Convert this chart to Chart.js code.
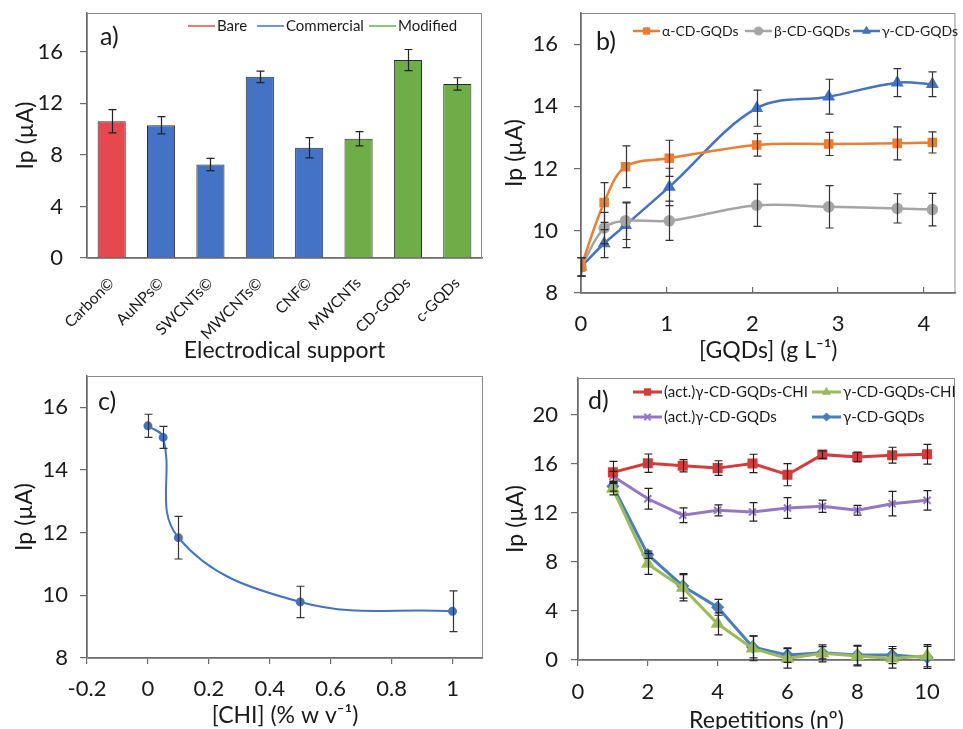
<!DOCTYPE html>
<html>
<head>
<meta charset="utf-8">
<script src="https://cdn.jsdelivr.net/npm/chart.js@4.4.0/dist/chart.umd.min.js"></script>
<style>
  html, body { margin: 0; padding: 0; background: #ffffff; }
  #wrap { position: relative; width: 963px; height: 729px; overflow: hidden; background: #fff; }
  canvas { position: absolute; }
</style>
</head>
<body>
<div id="wrap">
  <canvas id="cA" width="490" height="370" style="left:0px;top:0px;"></canvas>
  <canvas id="cB" width="473" height="370" style="left:490px;top:0px;"></canvas>
  <canvas id="cC" width="490" height="359" style="left:0px;top:370px;"></canvas>
  <canvas id="cD" width="473" height="359" style="left:490px;top:370px;"></canvas>
</div>
<script>
// ---------- DATA ----------
// Panel a
const supportCategories = ['Carbon©', 'AuNPs©', 'SWCNTs©', 'MWCNTs©', 'CNF©', 'MWCNTs', 'CD-GQDs', 'c-GQDs'];
const supportGroups = ['Bare', 'Commercial', 'Commercial', 'Commercial', 'Commercial', 'Modified', 'Modified', 'Modified'];
const supportIp = [10.6, 10.3, 7.25, 14.05, 8.55, 9.25, 15.35, 13.5];
const supportErr = [0.9, 0.67, 0.48, 0.45, 0.78, 0.55, 0.82, 0.48];
const groupNames = ['Bare', 'Commercial', 'Modified'];
const ticksAy = [0, 4, 8, 12, 16];

// Panel b
const gqdConc = [0, 0.27, 0.52, 1.03, 2.05, 2.89, 3.69, 4.1];
const alphaIp = [8.84, 10.91, 12.06, 12.33, 12.76, 12.79, 12.81, 12.84];
const alphaErr = [0.3, 0.64, 0.67, 0.58, 0.36, 0.37, 0.53, 0.34];
const betaIp = [8.84, 10.09, 10.32, 10.32, 10.82, 10.77, 10.72, 10.68];
const betaErr = [0.3, 0.5, 0.6, 0.63, 0.68, 0.68, 0.47, 0.52];
const gammaIp = [8.84, 9.59, 10.18, 11.41, 13.94, 14.31, 14.76, 14.71];
const gammaErr = [0.3, 0.45, 0.72, 0.6, 0.58, 0.56, 0.45, 0.4];
const seriesNamesB = ['α-CD-GQDs', 'β-CD-GQDs', 'γ-CD-GQDs'];
const ticksBx = [0, 1, 2, 3, 4];
const ticksBy = [8, 10, 12, 14, 16];

// Panel c
const chiConc = [0, 0.05, 0.1, 0.5, 1];
const chiIp = [15.41, 15.04, 11.84, 9.79, 9.49];
const chiIpErr = [0.37, 0.35, 0.68, 0.5, 0.65];
const ticksCx = [-0.2, 0, 0.2, 0.4, 0.6, 0.8, 1];
const ticksCy = [8, 10, 12, 14, 16];

// Panel d
const repetitions = [1, 2, 3, 4, 5, 6, 7, 8, 9, 10];
const actGammaChiIp = [15.3, 16.05, 15.84, 15.65, 16.03, 15.11, 16.75, 16.56, 16.7, 16.78];
const actGammaChiErr = [0.9, 0.75, 0.5, 0.6, 0.75, 0.9, 0.3, 0.4, 0.65, 0.8];
const gammaChiIp = [13.96, 7.84, 5.9, 2.95, 0.94, 0.13, 0.54, 0.32, 0.13, 0.35];
const gammaChiErr = [0.5, 0.85, 1.07, 0.9, 1.0, 0.8, 0.7, 0.8, 0.8, 0.9];
const actGammaIp = [14.98, 13.15, 11.81, 12.21, 12.08, 12.4, 12.54, 12.21, 12.75, 13.02];
const actGammaErr = [0.4, 0.85, 0.6, 0.45, 0.75, 0.85, 0.5, 0.4, 1.0, 0.8];
const gammaRepIp = [14.17, 8.59, 6.04, 4.3, 1.07, 0.4, 0.59, 0.4, 0.4, 0.21];
const gammaRepErr = [0.4, 0.3, 1.0, 0.65, 0.9, 0.6, 0.5, 0.8, 0.7, 0.9];
const seriesNamesD = ['(act.)γ-CD-GQDs-CHI', 'γ-CD-GQDs-CHI', '(act.)γ-CD-GQDs', 'γ-CD-GQDs'];
const ticksDx = [0, 2, 4, 6, 8, 10];
const ticksDy = [0, 4, 8, 12, 16, 20];

// ---------- STYLE ----------
const FONT = 'Lato, "Open Sans", "DejaVu Sans", sans-serif';
Chart.defaults.font.family = FONT;
Chart.defaults.color = '#1a1a1a';
const groupColors = { Bare: '#E5484E', Commercial: '#4472C4', Modified: '#6FAD47' };
const AXIS = '#6b6b6b';
const TICKFONT = 22;
const TITLEFONT = 23;

function pts(xs, ys) { return xs.map((x, i) => ({ x: x, y: ys[i] })); }
function fmt(v) { return String(+Number(v).toFixed(3)); }
function noPad(s) { s.paddingTop = 0; s.paddingBottom = 0; s.paddingLeft = 0; s.paddingRight = 0; }

// ---------- PLUGINS ----------
const boxPlugin = {
  id: 'plotBox',
  beforeDatasetsDraw(chart, args, opts) {
    const a = chart.chartArea, ctx = chart.ctx;
    ctx.save();
    ctx.strokeStyle = opts.color || '#8c8c8c';
    ctx.lineWidth = 1;
    ctx.strokeRect(a.left + 0.5, a.top + 0.5, a.right - a.left - 1, a.bottom - a.top);
    ctx.restore();
  }
};

const errorBarPlugin = {
  id: 'errorBars',
  afterDatasetsDraw(chart, args, opts) {
    const ctx = chart.ctx, ys = chart.scales.y;
    chart.data.datasets.forEach((ds, di) => {
      if (!ds.errorBars) return;
      const meta = chart.getDatasetMeta(di);
      ctx.save();
      ctx.strokeStyle = opts.color || '#333';
      ctx.lineWidth = opts.width || 1.2;
      const cap = opts.cap || 4;
      meta.data.forEach((el, i) => {
        const d = ds.data[i];
        const v = (typeof d === 'object' && d !== null) ? d.y : d;
        const e = ds.errorBars[i];
        if (v == null || e == null) return;
        const x = Math.round(el.x) + 0.5;
        const y1 = ys.getPixelForValue(v + e), y2 = ys.getPixelForValue(v - e);
        ctx.beginPath();
        ctx.moveTo(x, y1); ctx.lineTo(x, y2);
        ctx.moveTo(x - cap, y1); ctx.lineTo(x + cap, y1);
        ctx.moveTo(x - cap, y2); ctx.lineTo(x + cap, y2);
        ctx.stroke();
      });
      ctx.restore();
    });
  }
};

const legendPlugin = {
  id: 'inlineLegend',
  afterDraw(chart, args, opts) {
    if (!opts.items) return;
    const ctx = chart.ctx;
    opts.items.forEach(it => {
      const ds = it.ds != null ? chart.data.datasets[it.ds] : null;
      const color = it.color || (ds && ds.borderColor);
      const text = it.text || (ds && ds.label);
      const marker = it.marker !== undefined ? it.marker : (ds && ds.pointStyle);
      const radius = it.radius || (ds && ds.pointRadius) || 4;
      ctx.save();
      ctx.strokeStyle = color; ctx.fillStyle = color;
      ctx.lineWidth = opts.lineWidth || 2;
      ctx.beginPath();
      ctx.moveTo(it.x, it.y); ctx.lineTo(it.x + opts.lineLen, it.y);
      ctx.stroke();
      if (marker) {
        ctx.lineWidth = marker === 'crossRot' ? 2 : 1;
        Chart.helpers.drawPoint(ctx, { pointStyle: marker, radius: radius * 0.9, borderWidth: ctx.lineWidth, rotation: 0 }, it.x + opts.lineLen / 2, it.y);
      }
      ctx.fillStyle = '#1a1a1a';
      ctx.font = (opts.fontSize || 15) + 'px ' + FONT;
      ctx.textBaseline = 'middle';
      ctx.textAlign = 'left';
      ctx.fillText(text, it.x + opts.lineLen + 2, it.y);
      ctx.restore();
    });
  }
};

const panelLabelPlugin = {
  id: 'panelLabel',
  afterDraw(chart, args, opts) {
    if (!opts.text) return;
    const ctx = chart.ctx;
    ctx.save();
    ctx.fillStyle = '#1a1a1a';
    ctx.font = '25px ' + FONT;
    ctx.textBaseline = 'middle';
    ctx.textAlign = 'left';
    ctx.fillText(opts.text, opts.x, opts.y);
    ctx.restore();
  }
};

Chart.register(boxPlugin, errorBarPlugin, legendPlugin, panelLabelPlugin);

function setTicks(list) {
  return s => { s.ticks = list.map(v => ({ value: v })); };
}

function yAxis(width, min, max, tickList, titlePad, tickPad) {
  return {
    type: 'linear', position: 'left', min: min, max: max, bounds: 'data',
    afterBuildTicks: setTicks(tickList),
    afterFit: s => { s.width = width; noPad(s); },
    border: { display: true, color: AXIS, width: 1.5 },
    grid: { display: true, drawOnChartArea: false, drawTicks: true, tickLength: 7, color: AXIS, lineWidth: 1.2 },
    ticks: { padding: tickPad, font: { size: TICKFONT }, color: '#1a1a1a', callback: v => fmt(v) },
    title: { display: true, text: 'Ip (µA)', font: { size: TITLEFONT }, color: '#1a1a1a', padding: { top: titlePad, bottom: 0 } }
  };
}
function xLinear(height, min, max, tickList, title, titlePad, tickPad, tickLen) {
  return {
    type: 'linear', position: 'bottom', min: min, max: max, bounds: 'data',
    afterBuildTicks: setTicks(tickList),
    afterFit: s => { s.height = height; noPad(s); },
    border: { display: true, color: AXIS, width: 1.5 },
    grid: { display: true, drawOnChartArea: false, drawTicks: true, tickLength: tickLen, color: AXIS, lineWidth: 1.2 },
    ticks: { padding: tickPad, font: { size: TICKFONT }, color: '#1a1a1a', maxRotation: 0, autoSkip: false, callback: v => fmt(v) },
    title: { display: true, text: title, font: { size: TITLEFONT }, color: '#1a1a1a', padding: { top: 0, bottom: titlePad } }
  };
}

// ---------- PANEL A ----------
new Chart(document.getElementById('cA'), {
  type: 'bar',
  data: {
    labels: supportCategories,
    datasets: [{
      label: 'Ip',
      data: supportIp,
      errorBars: supportErr,
      backgroundColor: supportGroups.map(g => groupColors[g]),
      borderColor: '#2b2b2b',
      borderWidth: 1,
      barPercentage: 0.57,
      categoryPercentage: 1
    }]
  },
  options: {
    responsive: false, animation: false,
    layout: { padding: { left: 0, top: 13, right: 8, bottom: 0 } },
    plugins: {
      legend: { display: false }, tooltip: { enabled: false },
      errorBars: { cap: 4, color: '#222', width: 1.2 },
      plotBox: { color: '#8c8c8c' },
      panelLabel: { text: 'a)', x: 100, y: 37 },
      inlineLegend: {
        lineLen: 27, fontSize: 15, lineWidth: 1.5,
        items: [
          { text: groupNames[0], color: groupColors.Bare, marker: null, x: 188, y: 26 },
          { text: groupNames[1], color: groupColors.Commercial, marker: null, x: 257, y: 26 },
          { text: groupNames[2], color: groupColors.Modified, marker: null, x: 369, y: 26 }
        ]
      }
    },
    scales: {
      x: {
        type: 'category',
        afterFit: s => { s.height = 112; noPad(s); },
        border: { display: true, color: AXIS, width: 1.5 },
        grid: { display: false },
        ticks: { autoSkip: false, minRotation: 45, maxRotation: 45, padding: 8, font: { size: 15.5 }, color: '#1a1a1a' },
        title: { display: true, text: 'Electrodical support', font: { size: TITLEFONT }, color: '#1a1a1a', padding: { top: 0, bottom: 6 } }
      },
      y: yAxis(87, 0, 19, ticksAy, 12, 17)
    }
  }
});

// ---------- PANEL B ----------
new Chart(document.getElementById('cB'), {
  type: 'line',
  data: {
    datasets: [
      { label: seriesNamesB[0], data: pts(gqdConc, alphaIp), errorBars: alphaErr, borderColor: '#ED7D31', backgroundColor: '#ED7D31', borderWidth: 2.5, pointStyle: 'rect', pointRadius: 5, tension: 0.35 },
      { label: seriesNamesB[1], data: pts(gqdConc, betaIp), errorBars: betaErr, borderColor: '#A5A5A5', backgroundColor: '#A5A5A5', borderWidth: 2.5, pointStyle: 'circle', pointRadius: 4.5, tension: 0.35 },
      { label: seriesNamesB[2], data: pts(gqdConc, gammaIp), errorBars: gammaErr, borderColor: '#4472C4', backgroundColor: '#4472C4', borderWidth: 2.5, pointStyle: 'triangle', pointRadius: 5, tension: 0.35 }
    ]
  },
  options: {
    responsive: false, animation: false,
    layout: { padding: { left: 0, top: 13, right: 1, bottom: 0 } },
    plugins: {
      legend: { display: false }, tooltip: { enabled: false },
      errorBars: { cap: 4, color: '#333', width: 1.2 },
      plotBox: { color: '#8c8c8c' },
      panelLabel: { text: 'b)', x: 106, y: 42 },
      inlineLegend: {
        lineLen: 27, fontSize: 14, lineWidth: 2.5,
        items: [
          { ds: 0, x: 143, y: 31 },
          { ds: 1, x: 255, y: 31 },
          { ds: 2, x: 363, y: 31 }
        ]
      }
    },
    scales: {
      x: xLinear(77, 0, 4.37, ticksBx, '[GQDs] (g L⁻¹)', 6, 24, -6),
      y: yAxis(91, 8, 17, ticksBy, 11, 16)
    }
  }
});

// ---------- PANEL C ----------
new Chart(document.getElementById('cC'), {
  type: 'line',
  data: {
    datasets: [
      { label: 'CHI', data: pts(chiConc, chiIp), errorBars: chiIpErr, borderColor: '#4472C4', backgroundColor: '#4472C4', borderWidth: 2, pointStyle: 'circle', pointRadius: 3.5, tension: 0.4 }
    ]
  },
  options: {
    responsive: false, animation: false,
    layout: { padding: { left: 0, top: 5, right: 7, bottom: 0 } },
    plugins: {
      legend: { display: false }, tooltip: { enabled: false },
      errorBars: { cap: 4, color: '#333', width: 1.2 },
      plotBox: { color: '#8c8c8c' },
      panelLabel: { text: 'c)', x: 98, y: 32 }
    },
    scales: {
      x: xLinear(71, -0.2, 1.1, ticksCx, '[CHI] (% w v⁻¹)', 0, 11.5, 6),
      y: yAxis(87, 8, 17, ticksCy, 11, 12)
    }
  }
});

// ---------- PANEL D ----------
new Chart(document.getElementById('cD'), {
  type: 'line',
  data: {
    datasets: [
      { label: seriesNamesD[0], data: pts(repetitions, actGammaChiIp), errorBars: actGammaChiErr, borderColor: '#D63B3B', backgroundColor: '#D63B3B', borderWidth: 3, pointStyle: 'rect', pointRadius: 5, tension: 0, clip: false },
      { label: seriesNamesD[1], data: pts(repetitions, gammaChiIp), errorBars: gammaChiErr, borderColor: '#9BBB59', backgroundColor: '#9BBB59', borderWidth: 3, pointStyle: 'triangle', pointRadius: 5, tension: 0, clip: false },
      { label: seriesNamesD[2], data: pts(repetitions, actGammaIp), errorBars: actGammaErr, borderColor: '#9478C8', backgroundColor: '#9478C8', borderWidth: 3, pointStyle: 'crossRot', pointRadius: 5, pointBorderWidth: 2, tension: 0, clip: false },
      { label: seriesNamesD[3], data: pts(repetitions, gammaRepIp), errorBars: gammaRepErr, borderColor: '#4A7EBB', backgroundColor: '#4A7EBB', borderWidth: 3, pointStyle: 'rectRot', pointRadius: 4.5, tension: 0, clip: false }
    ]
  },
  options: {
    responsive: false, animation: false,
    layout: { padding: { left: 0, top: 5, right: 0, bottom: 0 } },
    plugins: {
      legend: { display: false }, tooltip: { enabled: false },
      errorBars: { cap: 4, color: '#222', width: 1.2 },
      plotBox: { color: '#8c8c8c' },
      panelLabel: { text: 'd)', x: 98, y: 31 },
      inlineLegend: {
        lineLen: 29, fontSize: 15, lineWidth: 3,
        items: [
          { ds: 0, x: 143, y: 22 },
          { ds: 1, x: 322, y: 22 },
          { ds: 2, x: 143, y: 47 },
          { ds: 3, x: 322, y: 47 }
        ]
      }
    },
    scales: {
      x: xLinear(69, 0, 10.8, ticksDx, 'Repetitions (nº)', -5, 12.8, 6),
      y: yAxis(88, 0, 23, ticksDy, 12, 13)
    }
  }
});
</script>
</body>
</html>
